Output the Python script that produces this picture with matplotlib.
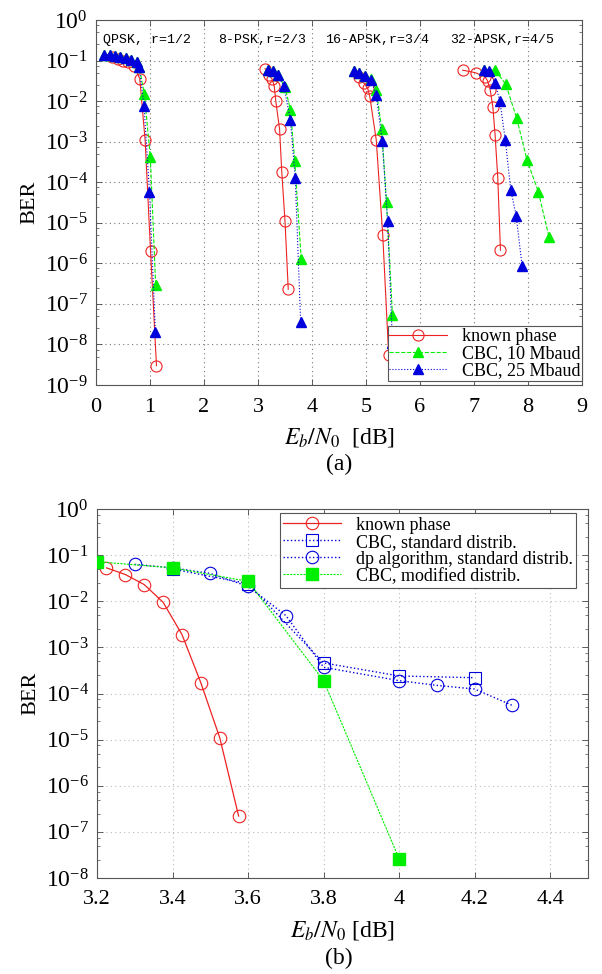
import matplotlib
matplotlib.use("Agg")
import matplotlib.pyplot as plt
from matplotlib.ticker import LogLocator, NullFormatter, FixedLocator

plt.rcParams["font.family"] = ["Liberation Serif", "DejaVu Serif"]
plt.rcParams["mathtext.fontset"] = "stix"

RED = "#ee2222"
GREEN = "#00ee00"
BLUE = "#0000dd"

# ---- panel (a): four modulations, three curves each ----
mod_labels = ["QPSK, r=1/2", "8-PSK,r=2/3", "16-APSK,r=3/4", "32-APSK,r=4/5"]
mod_label_x = [0.13, 2.26, 4.24, 6.56]

known_x = [
    [0.3, 0.4, 0.5, 0.6, 0.7, 0.81, 0.91, 1.01, 1.12],
    [3.13, 3.2, 3.26, 3.3, 3.33, 3.4, 3.44, 3.5, 3.56],
    [4.87, 4.96, 5.03, 5.07, 5.19, 5.31, 5.42],
    [6.79, 7.03, 7.2, 7.25, 7.3, 7.35, 7.39, 7.44, 7.49],
]
known_y = [
    [0.12, 0.11, 0.1, 0.09, 0.075, 0.036, 1.07e-3, 2e-6, 3e-9],
    [0.063, 0.045, 0.035, 0.024, 0.0099, 2e-3, 1.8e-4, 1.1e-5, 2.3e-7],
    [0.04, 0.028, 0.021, 0.013, 1.1e-3, 5e-6, 5.5e-9],
    [0.058, 0.05, 0.04, 0.032, 0.019, 7e-3, 1.5e-3, 1.3e-4, 2.1e-6],
]
cbc10_x = [
    [0.15, 0.25, 0.35, 0.45, 0.55, 0.65, 0.75, 0.8, 0.895, 1.006, 1.105],
    [3.19, 3.28, 3.37, 3.5, 3.6, 3.68, 3.8],
    [4.78, 4.87, 4.98, 5.09, 5.19, 5.29, 5.38, 5.49],
    [7.19, 7.39, 7.59, 7.79, 7.98, 8.19, 8.39],
]
cbc10_y = [
    [0.14, 0.135, 0.13, 0.125, 0.115, 0.105, 0.09, 0.07, 0.015, 4.2e-4, 2.9e-7],
    [0.06, 0.055, 0.045, 0.022, 6.2e-3, 3.4e-4, 1.27e-6],
    [0.055, 0.05, 0.042, 0.036, 0.0186, 2.1e-3, 3.2e-5, 5.4e-8],
    [0.06, 0.058, 0.026, 3.8e-3, 3.6e-4, 5.9e-5, 4.4e-6],
]
cbc25_x = [
    [0.15, 0.25, 0.35, 0.45, 0.55, 0.65, 0.75, 0.8, 0.89, 0.99, 1.1],
    [3.19, 3.28, 3.37, 3.48, 3.6, 3.69, 3.79],
    [4.78, 4.87, 4.98, 5.09, 5.19, 5.3, 5.4, 5.49],
    [7.19, 7.28, 7.39, 7.48, 7.58, 7.68, 7.78, 7.89],
]
cbc25_y = [
    [0.14, 0.135, 0.13, 0.125, 0.115, 0.105, 0.09, 0.068, 7.5e-3, 5.8e-5, 2e-8],
    [0.06, 0.055, 0.043, 0.023, 3.4e-3, 1.25e-4, 3.5e-8],
    [0.055, 0.05, 0.042, 0.034, 0.014, 1.05e-3, 1.1e-5, 1.1e-8],
    [0.058, 0.055, 0.028, 9.8e-3, 1.1e-3, 6.5e-5, 1.5e-5, 8.8e-7],
]

# ---- panel (b): 8-PSK detail ----
b_known_x = [3.225, 3.275, 3.325, 3.375, 3.425, 3.475, 3.525, 3.575]
b_known_y = [0.053, 0.038, 0.023, 9.5e-3, 1.9e-3, 1.7e-4, 1.1e-5, 2.2e-7]
b_std_x = [3.4, 3.6, 3.8, 4.0, 4.2]
b_std_y = [0.05, 0.024, 4.6e-4, 2.4e-4, 2.2e-4]
b_dp_x = [3.3, 3.4, 3.5, 3.6, 3.7, 3.8, 4.0, 4.1, 4.2, 4.3]
b_dp_y = [0.063, 0.053, 0.04, 0.021, 4.9e-3, 3.7e-4, 1.9e-4, 1.5e-4, 1.25e-4, 5.5e-5]
b_mod_x = [3.2, 3.4, 3.6, 3.8, 4.0]
b_mod_y = [0.072, 0.053, 0.027, 1.9e-4, 2.6e-8]

W, H = 602, 974
fig = plt.figure(figsize=(W / 100, H / 100), dpi=100)
ax1 = fig.add_axes([96 / W, 1 - 385 / H, 486 / W, 365 / H])
ax2 = fig.add_axes([97 / W, 1 - 878 / H, 491 / W, 369 / H])


def style_axes(ax, ymin, grid_color, grid_lw):
    ax.set_yscale("log")
    ax.set_ylim(ymin, 1)
    ax.yaxis.set_major_locator(LogLocator(base=10, numticks=20))
    ax.yaxis.set_minor_locator(LogLocator(base=10, subs=(2.5, 5, 7.5), numticks=20))
    ax.yaxis.set_minor_formatter(NullFormatter())
    ax.tick_params(which="both", direction="in", top=True, right=True,
                   color="#444444")
    ax.tick_params(axis="x", which="major", labelsize=16, pad=9)
    ax.tick_params(axis="y", which="major", labelsize=17, pad=6)
    ax.tick_params(which="major", length=4, width=0.6)
    ax.tick_params(which="minor", length=2, width=0.5)
    ax.grid(True, which="major", linestyle=(0, (1, 3)), color=grid_color,
            linewidth=grid_lw)
    for sp in ax.spines.values():
        sp.set_color("#555555")
        sp.set_linewidth(0.8)
    ax.set_ylabel("BER", fontsize=16, labelpad=4)


style_axes(ax1, 1e-9, "#777777", 0.8)
ax1.set_xlim(0, 9)
ax1.xaxis.set_major_locator(FixedLocator(range(10)))

for i in range(4):
    ax1.plot(known_x[i], known_y[i], "-", color=RED, lw=0.8, marker="o", ms=8,
             mfc="none", mec=RED, mew=0.8,
             label="known phase" if i == 0 else None, zorder=3)
    ax1.plot(cbc10_x[i], cbc10_y[i], "--", color=GREEN, lw=0.8, marker="^", ms=7,
             mfc=GREEN, mec=GREEN, label="CBC, 10 Mbaud" if i == 0 else None, zorder=4)
    ax1.plot(cbc25_x[i], cbc25_y[i], ":", color=BLUE, lw=0.8, marker="^", ms=7,
             mfc=BLUE, mec=BLUE, label="CBC, 25 Mbaud" if i == 0 else None, zorder=5)
    ax1.text(mod_label_x[i], 0.32, mod_labels[i], family="Liberation Mono",
             fontsize=9.5, va="center", ha="left")

leg1 = ax1.legend(loc="lower right", bbox_to_anchor=(1.0, 0.011), borderaxespad=0,
                  fontsize=13, handlelength=3.2, labelspacing=0.0,
                  handletextpad=0.8, borderpad=0.1, fancybox=False,
                  framealpha=1, edgecolor="#555555")
leg1.get_frame().set_linewidth(0.8)
ax1.set_xlabel(r"$E_b/N_0$  [dB]", fontsize=17, labelpad=7)
fig.text(339 / W, 1 - 464 / H, "(a)", fontsize=17, ha="center", va="center")

style_axes(ax2, 1e-8, "#bbbbbb", 0.8)
ax2.set_xlim(3.2, 4.5)
ax2.xaxis.set_major_locator(FixedLocator([3.2, 3.4, 3.6, 3.8, 4.0, 4.2, 4.4]))
ax2.set_xticklabels(["3.2", "3.4", "3.6", "3.8", "4", "4.2", "4.4"])

ax2.plot(b_known_x, b_known_y, "-", color=RED, lw=0.9, marker="o", ms=9,
         mfc="none", mec=RED, mew=0.8, label="known phase", zorder=3)
ax2.plot(b_std_x, b_std_y, ":", color=BLUE, lw=1.0, marker="s", ms=8,
         mfc="none", mec=BLUE, mew=0.8, label="CBC, standard distrib.", zorder=4)
ax2.plot(b_dp_x, b_dp_y, ":", color=BLUE, lw=1.0, marker="o", ms=9,
         mfc="none", mec=BLUE, mew=0.8, label="dp algorithm, standard distrib.", zorder=4)
ax2.plot(b_mod_x, b_mod_y, linestyle=(0, (2, 1)), color=GREEN, lw=0.8, marker="s",
         ms=8, mfc=GREEN, mec=GREEN, label="CBC, modified distrib.", zorder=5)

leg2 = ax2.legend(loc="upper right", bbox_to_anchor=(1 - 12 / 491, 1 - 4 / 369),
                  borderaxespad=0, fontsize=13, handlelength=3.2,
                  labelspacing=0.0, handletextpad=0.8, borderpad=0.2,
                  fancybox=False, framealpha=1, edgecolor="#555555")
leg2.get_frame().set_linewidth(0.8)
ax2.set_xlabel(r"$E_b/N_0$ [dB]", fontsize=17, labelpad=7)
fig.text(339 / W, 1 - 958 / H, "(b)", fontsize=17, ha="center", va="center")

fig.savefig("out.png", dpi=100)
